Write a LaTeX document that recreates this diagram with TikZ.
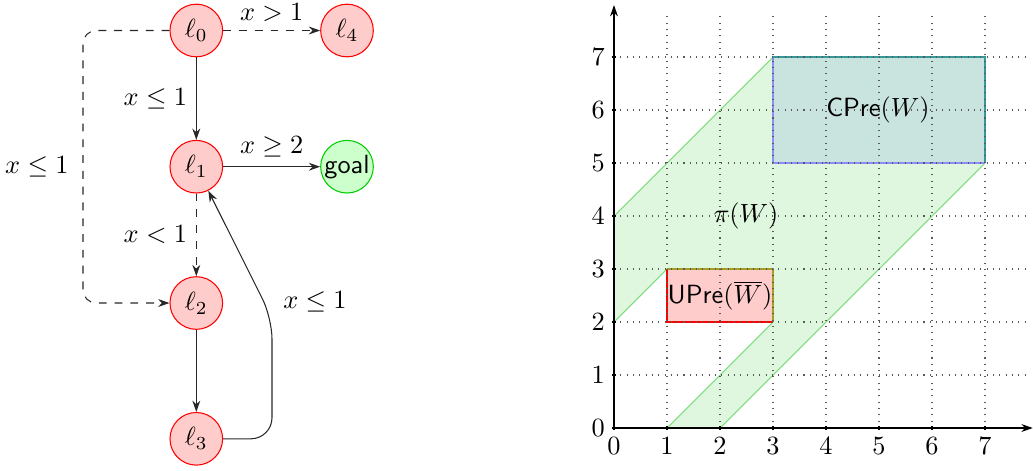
\documentclass[tikz,border=0pt]{standalone}
\usetikzlibrary{arrows.meta}
\definecolor{cpre}{RGB}{201,228,222}
\definecolor{pigreen}{RGB}{222,247,222}
\definecolor{piline}{RGB}{125,220,125}
\definecolor{edgegray}{RGB}{40,40,40}
\tikzset{
  loc/.style={circle, draw=red, fill=red!20, minimum size=20pt, inner sep=0pt},
  goalloc/.style={circle, draw=green!80!black, fill=green!20, minimum size=20pt, inner sep=0pt},
  edge/.style={draw=edgegray, -{Stealth[length=4.3pt,width=3pt]}},
}
\begin{document}
\begin{tikzpicture}[x=0.38pt,y=-0.38pt]
\useasboundingbox (0,0) rectangle (1033,470);
% ---------- automaton ----------
\node[loc] (l0) at (196.3,30.5) {$\ell_0$};
\node[loc] (l4) at (347,30.5) {$\ell_4$};
\node[loc] (l1) at (196.3,166.7) {$\ell_1$};
\node[goalloc] (goal) at (347,166.7) {\textsf{goal}};
\node[loc] (l2) at (196.3,303) {$\ell_2$};
\node[loc] (l3) at (196.3,438.8) {$\ell_3$};

\draw[edge, dashed] (l0) -- node[above] {$x>1$} (l4);
\draw[edge] (l0) -- node[left] {$x\leq 1$} (l1);
\draw[edge] (l1) -- node[above] {$x\geq 2$} (goal);
\draw[edge, dashed] (l1) -- node[left] {$x<1$} (l2);
\draw[edge] (l2) -- (l3);
\draw[edge, dashed, rounded corners=5pt] (l0.west) -- (83,30.5) -- node[left, xshift=-2pt] {$x\leq 1$} (83,303) -- (l2.west);
\draw[edge, rounded corners=8pt] (l3.east) -- (272,438.8) -- (272,318) -- (l1);
\node[anchor=west] (lab31) at (274,302) {$x\leq 1$};

% ---------- plot ----------
\begin{scope}[shift={(614,428)}, x=20.14pt, y=20.14pt]
  \fill[pigreen] (0,2) -- (1,3) -- (3,3) -- (3,2) -- (1,0) -- (2,0) -- (7,5) -- (7,7) -- (3,7) -- (0,4) -- cycle;
  \draw[piline] (0,4) -- (3,7);
  \draw[piline] (0,2) -- (1,3);
  \draw[piline] (1,0) -- (3,2);
  \draw[piline] (2,0) -- (7,5);
  \fill[cpre] (3,5) rectangle (7,7);
  \draw[blue!45, thin] (3,7) -- (3,5) -- (7,5);
  \draw[teal!80, thin] (3,7) -- (7,7) -- (7,5);
  \fill[red!20] (1,2) rectangle (3,3);
  \draw[red, thin] (1,3) -- (1,2) -- (3,2);
  \draw[olive!80, thin] (1,3) -- (3,3) -- (3,2);
  \draw[dotted, black!65, step=20.14pt] (0,0) grid (7.85,7.8);
  \draw[-{Stealth[length=4.3pt,width=3pt]}] (0,0) -- (7.9,0);
  \draw[-{Stealth[length=4.3pt,width=3pt]}] (0,0) -- (0,7.98);
  \foreach \i in {0,...,7} {
    \draw (\i,-0.04) -- (\i,0.04);
    \draw (-0.04,\i) -- (0.04,\i);
    \node[below] at (\i,0) {$\i$};
    \node[left] at (0,\i) {$\i$};
  }
  \node (cpretxt) at (4.98,6.0) {\textsf{CPre}$(W)$};
  \node (pitxt) at (2.49,4.0) {$\pi(W)$};
  \node (upretxt) at (2.0,2.5) {\textsf{UPre}$(\overline{W})$};
\end{scope}
\end{tikzpicture}
\end{document}
